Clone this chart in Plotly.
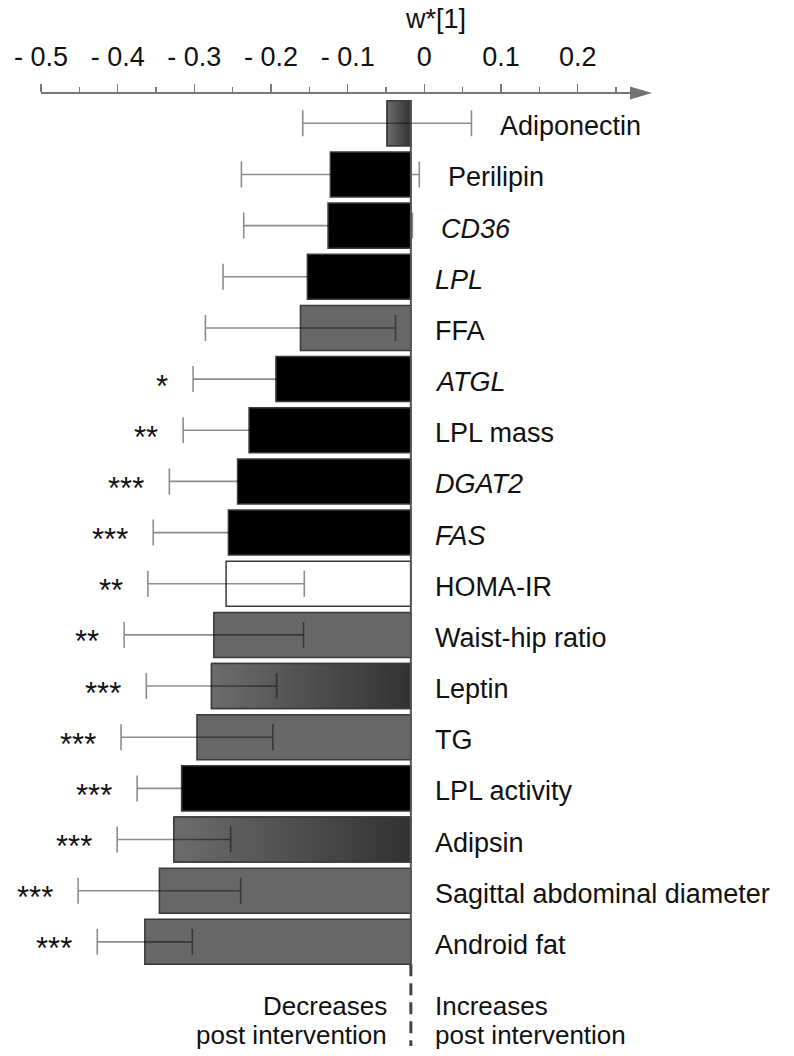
import plotly.graph_objects as go

# ---------------- data ----------------
CATEGORIES = ["Adiponectin", "Perilipin", "CD36", "LPL", "FFA", "ATGL", "LPL mass",
              "DGAT2", "FAS", "HOMA-IR", "Waist-hip ratio", "Leptin", "TG",
              "LPL activity", "Adipsin", "Sagittal abdominal diameter", "Android fat"]
KIND = ["adipokine", "protein", "gene", "gene", "clinical", "gene", "protein",
        "gene", "gene", "insulin", "clinical", "adipokine", "clinical",
        "protein", "adipokine", "clinical", "clinical"]
W1 = [-0.031, -0.105, -0.108, -0.135, -0.144, -0.176, -0.211,
      -0.226, -0.238, -0.241, -0.257, -0.260, -0.279,
      -0.299, -0.309, -0.328, -0.347]
W1_ERR = [0.110, 0.116, 0.110, 0.110, 0.124, 0.108, 0.086,
          0.089, 0.098, 0.102, 0.117, 0.085, 0.099,
          0.058, 0.074, 0.106, 0.062]
SIGNIF = ["", "", "", "", "", "*", "**", "***", "***", "**", "**", "***", "***",
          "***", "***", "***", "***"]
AXIS_TICKS = [-0.5, -0.4, -0.3, -0.2, -0.1, 0, 0.1, 0.2]
AXIS_TICK_LABELS = ["- 0.5", "- 0.4", "- 0.3", "- 0.2", "- 0.1", "0", "0.1", "0.2"]
AXIS_TITLE = "w*[1]"
BAR_ORIGIN_ON_AXIS = -0.0176   # in the original the bars' zero sits left of the printed 0
LEFT_TEXT = ["Decreases", "post intervention"]
RIGHT_TEXT = ["Increases", "post intervention"]

# ---------------- styling / layout ----------------
FONT = "Arial, 'Liberation Sans', Helvetica, sans-serif"
FS = 27
W, H = 794, 1056
L_PX, R_PX, T_PX, B_PX = 41, 652, 93, 1047
PX_PER_UNIT = 766.7
ROW0_PX, ROW_PITCH = 123.3, 51.16
BAR_W = 0.88

x2_range = [-0.5, -0.5 + (R_PX - L_PX) / PX_PER_UNIT]
x_range = [x2_range[0] - BAR_ORIGIN_ON_AXIS, x2_range[1] - BAR_ORIGIN_ON_AXIS]
y_range = [(B_PX - ROW0_PX) / ROW_PITCH, (T_PX - ROW0_PX) / ROW_PITCH]


def py(px):
    return (px - ROW0_PX) / ROW_PITCH


FILL = {"gene": "#000000", "protein": "#000000", "clinical": "#676767",
        "insulin": "#ffffff", "adipokine": "#505050"}
OUTLINE = "#3a3a3a"

rows = list(range(len(CATEGORIES)))
fig = go.Figure()

fig.add_trace(go.Bar(
    x=W1, y=rows, orientation="h", width=BAR_W,
    marker=dict(color=[FILL[k] for k in KIND], line=dict(color=OUTLINE, width=1.5)),
    hoverinfo="skip", showlegend=False,
))

# gradient bars (adipokines)
for i, (v, k) in enumerate(zip(W1, KIND)):
    if k != "adipokine":
        continue
    h = BAR_W / 2
    fig.add_trace(go.Scatter(
        x=[v, 0, 0, v, v], y=[i - h, i - h, i + h, i + h, i - h],
        mode="lines", fill="toself",
        fillgradient=dict(type="horizontal", start=v, stop=0,
                          colorscale=[[0, "#6c6c6c"], [1, "#323232"]]),
        line=dict(color=OUTLINE, width=1.5),
        hoverinfo="skip", showlegend=False,
    ))

# error bars
fig.add_trace(go.Scatter(
    x=W1, y=rows, mode="markers",
    marker=dict(size=1, color="rgba(0,0,0,0)"),
    error_x=dict(type="data", array=W1_ERR, symmetric=True,
                 color="rgba(0,0,0,0.45)", thickness=1.6, width=13),
    hoverinfo="skip", showlegend=False,
))

annotations = []
for i, (name, k, v, e, s) in enumerate(zip(CATEGORIES, KIND, W1, W1_ERR, SIGNIF)):
    right = v + e
    annotations.append(dict(
        x=max(right, 0), y=i, xref="x", yref="y", xanchor="left", yanchor="middle",
        xshift=27 if right > 0 else 22, yshift=-3, showarrow=False,
        text=f"<i>{name}</i>" if k == "gene" else name,
        font=dict(family=FONT, size=FS, color="#111"),
    ))
    if s:
        annotations.append(dict(
            x=v - e, y=i, xref="x", yref="y", xanchor="right", yanchor="middle",
            xshift=-23, yshift=-7, showarrow=False, text=s,
            font=dict(family=FONT, size=31, color="#111"),
        ))

for j, (lt, rt) in enumerate(zip(LEFT_TEXT, RIGHT_TEXT)):
    yy = py(1006 + 29 * j)
    annotations.append(dict(x=0, y=yy, xref="x", yref="y", xanchor="right",
                            yanchor="middle", xshift=-22, showarrow=False, text=lt,
                            font=dict(family=FONT, size=26, color="#111")))
    annotations.append(dict(x=0, y=yy, xref="x", yref="y", xanchor="left",
                            yanchor="middle", xshift=22, showarrow=False, text=rt,
                            font=dict(family=FONT, size=26, color="#111")))

annotations.append(dict(
    x=0.014, y=1, xref="x2", yref="paper", xanchor="center", yanchor="middle",
    yshift=T_PX - 19, showarrow=False, text=AXIS_TITLE,
    font=dict(family=FONT, size=FS, color="#111"),
))

plot_h = B_PX - T_PX
tri_base = x2_range[1] - 22 / PX_PER_UNIT
half = 6.5 / plot_h
shapes = [
    # axis line with arrow
    dict(type="line", xref="x2", yref="paper", x0=-0.5, x1=tri_base + 0.002, y0=1, y1=1,
         line=dict(color="#777", width=2)),
    dict(type="path", xref="x2", yref="paper",
         path=f"M {tri_base},{1 - half} L {x2_range[1]},1 L {tri_base},{1 + half} Z",
         fillcolor="#737373", line=dict(width=0)),
    # zero line of the bars
    dict(type="line", xref="x", yref="y", x0=0, x1=0, y0=-BAR_W / 2, y1=len(rows) - 1 + BAR_W / 2,
         line=dict(color="#555", width=2), layer="above"),
    dict(type="line", xref="x", yref="y", x0=0, x1=0, y0=len(rows) - 1 + BAR_W / 2, y1=py(1046),
         line=dict(color="#444", width=3, dash="12px,7px")),
]

fig.update_layout(
    width=W, height=H,
    margin=dict(l=L_PX, r=W - R_PX, t=T_PX, b=H - B_PX, pad=0),
    paper_bgcolor="white", plot_bgcolor="white",
    showlegend=False,
    xaxis=dict(range=x_range, visible=False, fixedrange=True),
    xaxis2=dict(range=x2_range, overlaying="x", side="top", anchor="y",
                tickmode="array", tickvals=AXIS_TICKS, ticktext=AXIS_TICK_LABELS,
                ticks="outside", ticklen=8, tickwidth=1.5, tickcolor="#777",
                minor=dict(dtick=0.05, tick0=0, ticks="outside", ticklen=5,
                           tickwidth=1.5, tickcolor="#777"),
                showgrid=False, zeroline=False, showline=False,
                ticklabelstandoff=7, fixedrange=True,
                tickfont=dict(family=FONT, size=FS, color="#111")),
    yaxis=dict(range=y_range, visible=False, fixedrange=True),
    annotations=annotations,
    shapes=shapes,
)

fig.write_html("out.html", config={"displayModeBar": False, "staticPlot": True},
               post_script="document.body.style.margin='0px';document.body.style.overflow='hidden';")
